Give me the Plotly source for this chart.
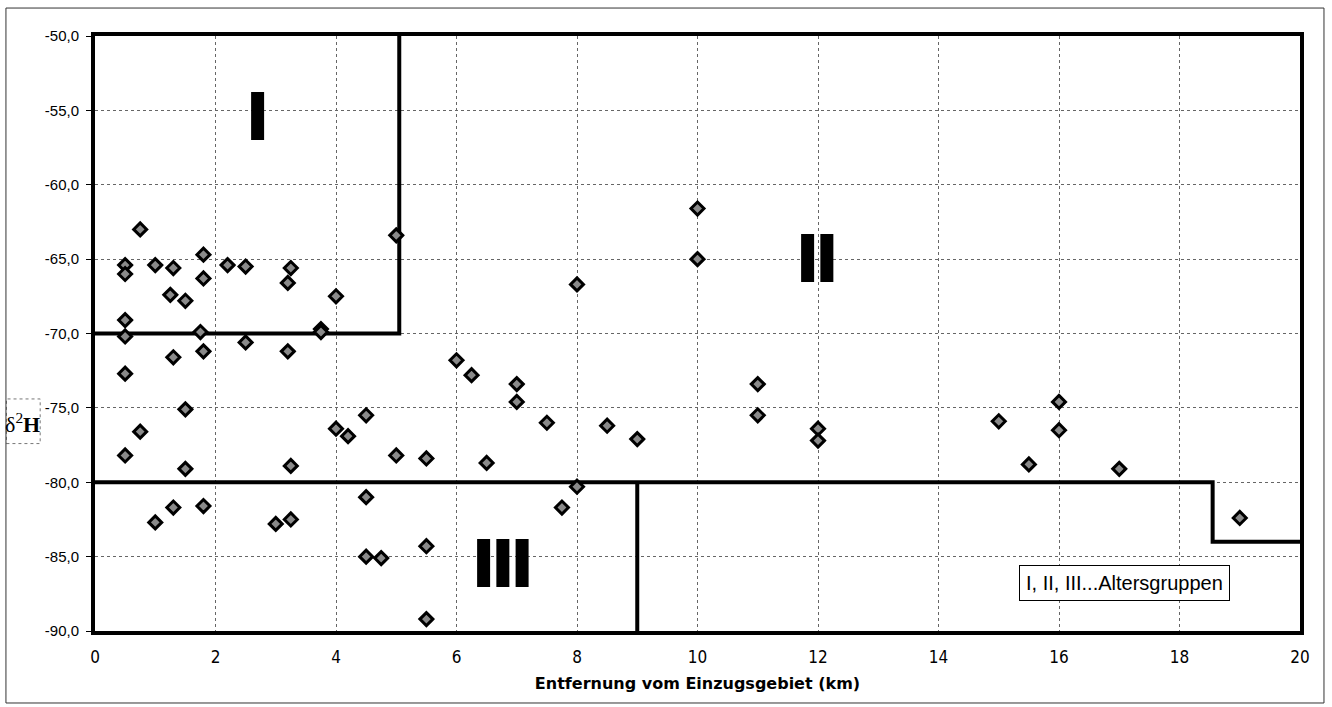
import plotly.graph_objects as go

# ---- data ----
dist_km = [0.5, 0.5, 0.5, 0.5, 0.5, 0.5,
           0.75, 0.75,
           1.0, 1.0,
           1.3, 1.25, 1.3, 1.3,
           1.5, 1.5, 1.5,
           1.8, 1.8, 1.75, 1.8, 1.8,
           2.2, 2.5, 2.5,
           3.0,
           3.25, 3.2, 3.2, 3.25, 3.25,
           3.75, 3.75,
           4.0, 4.0, 4.2,
           4.5, 4.5, 4.5, 4.75,
           5.0, 5.0,
           5.5, 5.5, 5.5,
           6.0, 6.25, 6.5,
           7.0, 7.0, 7.5, 7.75,
           8.0, 8.0, 8.5, 9.0,
           10.0, 10.0,
           11.0, 11.0,
           12.0, 12.0,
           15.0, 15.5, 16.0, 16.0, 17.0, 19.0]
d2h = [-65.4, -66.0, -69.1, -70.2, -72.7, -78.2,
       -63.0, -76.6,
       -65.4, -82.7,
       -65.6, -67.4, -71.6, -81.7,
       -67.8, -75.1, -79.1,
       -64.7, -66.3, -69.9, -71.2, -81.6,
       -65.4, -65.5, -70.6,
       -82.8,
       -65.6, -66.6, -71.2, -78.9, -82.5,
       -69.7, -69.9,
       -67.5, -76.4, -76.9,
       -75.5, -81.0, -85.0, -85.1,
       -63.4, -78.2,
       -78.4, -84.3, -89.2,
       -71.8, -72.8, -78.7,
       -73.4, -74.6, -76.0, -81.7,
       -66.7, -80.3, -76.2, -77.1,
       -61.6, -65.0,
       -73.4, -75.5,
       -76.4, -77.2,
       -75.9, -78.8, -74.6, -76.5, -79.1, -82.4]

# age-group boundaries (km, delta2H); None separates segments
boundary_x = [5.05, 5.05, 0, None, 0, 18.55, 18.55, 20, None, 9, 9]
boundary_y = [-50, -70, -70, None, -80, -80, -84, -84, None, -80, -90]

group_labels = ["I", "II", "III"]
group_x = [2.7, 11.98, 6.77]
group_y = [-55.4, -64.9, -85.4]

x_ticks = [0, 2, 4, 6, 8, 10, 12, 14, 16, 18, 20]
y_ticks = [-90, -85, -80, -75, -70, -65, -60, -55, -50]
y_ticklabels = ["-90,0", "-85,0", "-80,0", "-75,0", "-70,0", "-65,0", "-60,0", "-55,0", "-50,0"]

fig = go.Figure()

fig.add_trace(go.Scatter(
    x=boundary_x, y=boundary_y, mode="lines",
    line=dict(color="black", width=4), hoverinfo="skip", showlegend=False,
))

fig.add_trace(go.Scatter(
    x=dist_km, y=d2h, mode="markers",
    marker=dict(symbol="diamond", size=10, color="#8a8a8a",
                line=dict(color="black", width=3)),
    showlegend=False,
))

for lab, gx, gy in zip(group_labels, group_x, group_y):
    fig.add_annotation(x=gx, y=gy, xref="x", yref="y", text=lab, showarrow=False,
                       font=dict(family="Inter", size=66, color="black", weight=900),
                       xanchor="center", yanchor="middle")

fig.add_annotation(x=18.84, y=-86.75, xref="x", yref="y",
                   text="I, II, III...Altersgruppen", showarrow=False,
                   xanchor="right", yanchor="middle",
                   font=dict(family="Liberation Sans, Arial", size=20, color="black"),
                   bgcolor="white", bordercolor="black", borderwidth=1, borderpad=6)

# y-axis title in a dotted box
fig.add_annotation(x=-0.0598, y=0.35, xref="paper", yref="paper",
                   text="δ<sup>2</sup><b>H</b>", showarrow=False,
                   xanchor="center", yanchor="middle",
                   font=dict(family="Liberation Serif, DejaVu Serif", size=22, color="black"))
fig.add_shape(type="rect", xref="paper", yref="paper",
              x0=-0.0735, x1=-0.0455, y0=0.315, y1=0.39,
              line=dict(color="#777", width=1, dash="dot"))

# outer chart frame
fig.add_shape(type="rect", xref="paper", yref="paper",
              x0=-0.0739, x1=1.0199, y0=-0.121, y1=1.047,
              line=dict(color="#333", width=1))

fig.update_xaxes(
    range=[0, 20], tickvals=x_ticks, showgrid=True,
    gridcolor="#666", griddash="dot", gridwidth=1,
    showline=True, linecolor="black", linewidth=4, mirror=True,
    ticks="", zeroline=False, ticklabelstandoff=8,
    tickfont=dict(family="Liberation Sans Narrow, DejaVu Sans Condensed", size=17, color="black"),
    title=dict(text="<b>Entfernung vom Einzugsgebiet (km)</b>",
               font=dict(family="DejaVu Sans", size=16, color="black"), standoff=12),
)
fig.update_yaxes(
    range=[-90, -50], tickvals=y_ticks, ticktext=y_ticklabels, showgrid=True,
    gridcolor="#666", griddash="dot", gridwidth=1,
    showline=True, linecolor="black", linewidth=4, mirror=True,
    ticks="outside", ticklen=5, tickcolor="black", zeroline=False, ticklabelstandoff=4,
    tickfont=dict(family="Liberation Sans, Arial", size=15, color="black"),
)

fig.update_layout(
    width=1332, height=707,
    margin=dict(l=95, r=32, t=36, b=76),
    paper_bgcolor="white", plot_bgcolor="white",
    showlegend=False,
)

fig.write_html("out.html")
